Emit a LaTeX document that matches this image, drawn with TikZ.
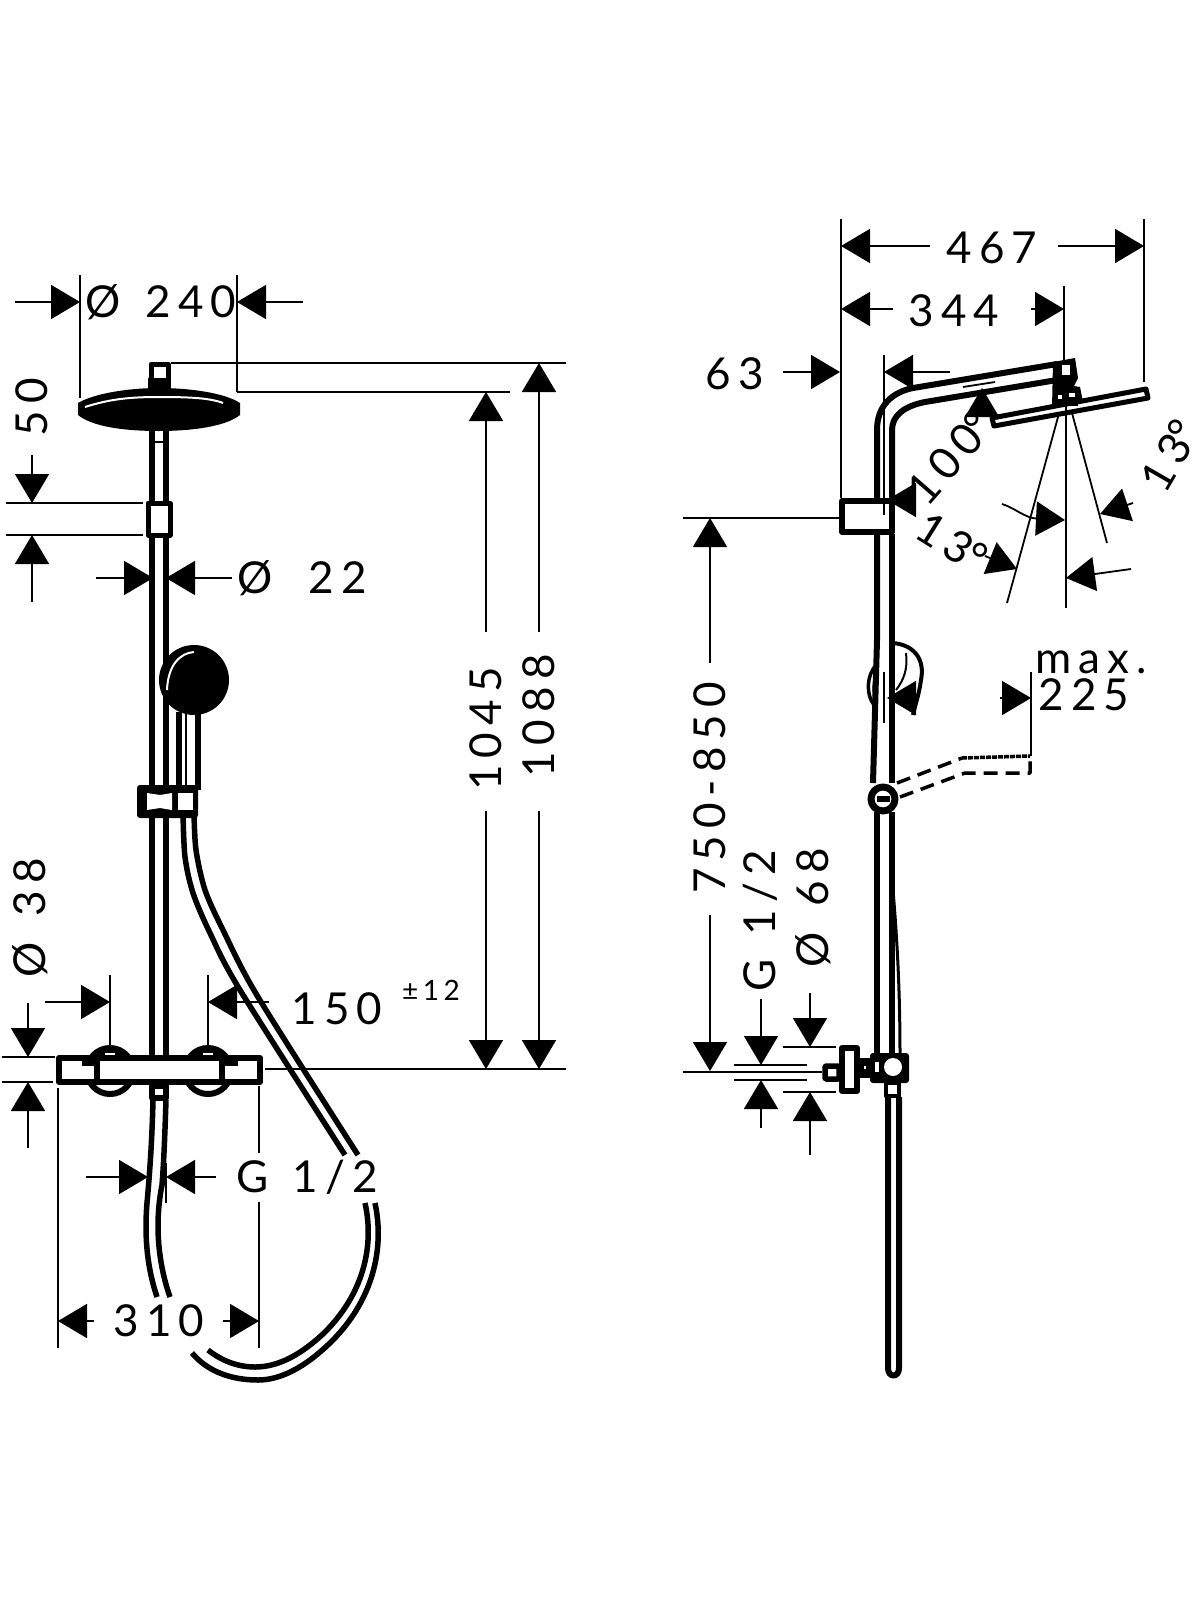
\documentclass[tikz,border=0pt]{standalone}
\usepackage{fontspec}
\setmainfont[LetterSpace=16]{Lato}
\usetikzlibrary{arrows.meta}

\tikzset{
  part/.style={line width=6pt,line join=round},
  hose/.style={line width=5.5pt},
  ext/.style={line width=1.8pt},
  dimline/.style={line width=1.8pt,-{Triangle[length=29pt,width=34pt]}},
  label/.style={inner sep=0pt,font=\fontsize{44}{44}\selectfont},
}

\begin{document}
\begin{tikzpicture}[x=1pt,y=-1pt]

      \useasboundingbox (0,0) rectangle (1200,1600);
      \fill[white] (0,0) rectangle (1200,1600);

      % Left view, rail and shower head
      \begin{scope}[part]
        \draw (152,431) -- (152,1058);
        \draw (166,431) -- (166,1058);
        \draw[ext] (154,442) -- (164,442);
        \draw[line width=5pt,fill=white] (148,503) rectangle (170,535);
        \draw[line width=5pt,fill=white] (151,364) rectangle (168,380);
        \fill (148,378) rectangle (171,392);
        \fill (78,403) .. controls (95,393) and (130,388) .. (159,388)
          .. controls (190,388) and (225,393) .. (240,403) -- (240,415)
          .. controls (225,427) and (190,431) .. (159,431)
          .. controls (125,431) and (93,427) .. (78,415) -- cycle;
        \draw[white,line width=2pt] (85,407) .. controls (110,399) and (130,397) .. (159,397)
          .. controls (190,397) and (210,398) .. (223,403);
      \end{scope}

      % Left view, hand shower
      \begin{scope}[part]
        \draw (179,712) -- (179,790);
        \draw (198,712) -- (198,790);
        \draw[ext] (186,712) -- (186,790);
        \fill (194,680) circle[radius=35pt];
        \draw[white,line width=2pt] (167,690) .. controls (168,665) and (180,653) .. (194,652);
        \fill[rounded corners=3pt] (137,785) rectangle (198,818);
        \fill[white] (147,793) -- (160,795) -- (172,793) -- (172,810) -- (160,808) -- (147,810) -- cycle;
        \fill[white] (178,793) rectangle (193,810);
      \end{scope}

      % Left view, hoses
      \begin{scope}[hose]
        \draw plot[smooth] coordinates {(183,813) (185,857) (193,893) (210,933) (240,990) (345,1155)};
        \draw plot[smooth] coordinates {(194,813) (196,850) (205,890) (223,930) (258,997) (358,1155)};
        \draw (375,1203) .. controls (385,1250) and (372,1300) .. (333,1340)
          .. controls (305,1368) and (280,1380) .. (258,1380)
          .. controls (232,1380) and (208,1372) .. (192,1353);
        \draw (365,1203) .. controls (375,1248) and (362,1295) .. (325,1332)
          .. controls (300,1356) and (277,1367) .. (255,1367)
          .. controls (238,1367) and (222,1361) .. (208,1350);
        \draw (153,1100) .. controls (152,1140) and (150,1170) .. (147,1203)
          .. controls (144,1240) and (148,1270) .. (157,1297);
        \draw (166,1100) .. controls (165,1130) and (164,1160) .. (162,1185)
          .. controls (155,1220) and (157,1260) .. (170,1297);
      \end{scope}

      % Left view, thermostat
      \begin{scope}[part]
        \draw (110,1071) circle[radius=23pt];
        \draw (208,1071) circle[radius=23pt];
        \draw[fill=white] (59,1058) rectangle (260,1082);
        \fill[white] (100,1061) rectangle (219,1079);
        \fill (92,1058) .. controls (95,1042) and (125,1042) .. (128,1058) -- cycle;
        \fill (190,1058) .. controls (193,1042) and (223,1042) .. (226,1058) -- cycle;
        \draw[white,line width=1.5pt] (105,1054) -- (115,1054);
        \draw[white,line width=1.5pt] (203,1054) -- (213,1054);
        \draw (97,1058) -- (97,1082);
        \draw (222,1058) -- (222,1082);
        \draw (82,1063) -- (97,1063);
        \draw (222,1063) -- (238,1063);
        \draw[line width=5.5pt,fill=white] (152,1086) rectangle (166,1098);
      \end{scope}

      % Right view, rail and arm
      \begin{scope}[part]
        \draw (877,500) -- (877,430) .. controls (877,405) and (893,392) .. (913,388) -- (1057,364);
        \draw (892,500) -- (892,430) .. controls (892,415) and (905,406) .. (925,402) -- (1057,380);
        \draw (877,534) -- (877,640) -- (873,783);
        \draw (892,534) -- (892,783);
        \draw[line width=5.5pt,fill=white] (842,501) rectangle (892,532);
        \fill (1053,362) -- (1075,358) -- (1078,378) -- (1074,386) -- (1080,387)
          -- (1083,402) -- (1052,408) -- cycle;
        \fill[white] (1062,365) rectangle (1070,375);
        \draw[line width=5pt,fill=white] (992,418) -- (1146,389) -- (1148,398) -- (994,426) -- cycle;
        \fill (1056,398) rectangle (1078,406);
        \fill[white] (1058,395) rectangle (1062,399);
        \fill[white] (1069,393) rectangle (1075,397);
      \end{scope}

      % Right view, hand shower
      \begin{scope}[part]
        \draw[line width=4pt] (893,643) .. controls (915,645) and (925,660) .. (921,680) .. controls (919,695) and (915,705) .. (913,715);
        \draw[line width=2pt] (906,653) .. controls (908,668) and (904,680) .. (896,690);
        \draw[line width=3.5pt] (877,664) .. controls (866,675) and (866,695) .. (874,705);
        \draw[line width=3pt] (877,672) .. controls (873,680) and (873,695) .. (876,702);
        \draw[ext] (884,672) -- (884,723);
        \draw[line width=3.5pt,dash pattern=on 14pt off 8pt] (897,783) -- (962,758);
        \draw[line width=3.5pt,dash pattern=on 5pt off 1pt] (962,758) -- (1030,756);
        \draw[line width=3.5pt,dash pattern=on 14pt off 8pt] (900,797) -- (965,773) -- (1030,773) -- (1030,756);
        \draw[fill=white,line width=7pt] (883,799) circle[radius=12pt];
        \fill (877,796) rectangle (890,802);
      \end{scope}

      % Right view, outlet
      \begin{scope}[part]
        \draw (877,812) -- (877,1055);
        \draw (892,812) -- (892,1055);
        \draw[line width=3pt] (893,890) .. controls (898,950) and (900,1000) .. (900,1055);
        \draw (888,1097) -- (888,1368) .. controls (888,1378) and (899,1378) .. (899,1368) -- (899,1097);
        \draw[line width=5.5pt,fill=white,rounded corners=1pt] (825,1066) rectangle (839,1079);
        \fill (859,1058) rectangle (873,1078);
        \fill[rounded corners=3pt] (870,1053) rectangle (909,1083);
        \fill[white] (893,1067) circle[radius=9pt];
        \fill[white] (875,1062) rectangle (879,1072);
        \fill[white] (864,1066) rectangle (866,1069);
        \draw[fill=white] (842,1048) rectangle (857,1091);
        \draw[line width=4.5pt,fill=white] (886,1083) rectangle (899,1096);
      \end{scope}

      % Extension lines
      \begin{scope}[ext]
        \draw (80,275) -- (80,398);
        \draw (237,275) -- (237,392);
        \draw (171,363) -- (566,363);
        \draw (237,392) -- (510,392);
        \draw (6,503) -- (143,503);
        \draw (6,535) -- (143,535);
        \draw (2,1057) -- (55,1057);
        \draw (2,1082) -- (53,1082);
        \draw (110,975) -- (110,1047);
        \draw (208,975) -- (208,1047);
        \draw (265,1069) -- (566,1069);
        \draw (58,1088) -- (58,1348);
        \draw (259,1086) -- (259,1153);
        \draw (259,1202) -- (259,1348);
        \draw (166,1163) -- (166,1203);

        \draw (841,219) -- (841,498);
        \draw (1144,219) -- (1144,382);
        \draw (1064,286) -- (1064,360);
        \draw (1066,392) -- (1066,608);
        \draw (884,355) -- (884,515);
        \draw (683,518) -- (840,518);
        \draw (1058,417) -- (1007,603);
        \draw (1072,413) -- (1107,543);
        \draw (963,387) -- (995,382);
        \draw (1031,672) -- (1031,756);
        \draw (683,1072) -- (822,1072);
        \draw (734,1065) -- (807,1065);
        \draw (734,1080) -- (807,1080);
        \draw (783,1047) -- (836,1047);
        \draw (783,1092) -- (836,1092);
      \end{scope}

      % Dimension arrows, left view
      \begin{scope}[dimline]
        \draw[dimline] (15,302) -- (80,302);
        \draw[dimline] (303,302) -- (237,302);
        \draw[dimline] (32,455) -- (32,503);
        \draw[dimline] (32,602) -- (32,535);
        \draw[dimline] (96,578) -- (153,578);
        \draw[dimline] (232,578) -- (166,578);
        \draw[dimline] (486,632) -- (486,392);
        \draw[dimline] (486,811) -- (486,1069);
        \draw[dimline] (539,632) -- (539,363);
        \draw[dimline] (539,811) -- (539,1069);
        \draw[dimline] (28,1003) -- (28,1057);
        \draw[dimline] (28,1148) -- (28,1082);
        \draw[dimline] (45,1002) -- (110,1002);
        \draw[dimline] (269,1002) -- (208,1002);
        \draw[dimline] (86,1177) -- (148,1177);
        \draw[dimline] (216,1177) -- (166,1177);
        \draw[dimline] (94,1321) -- (58,1321);
        \draw[dimline] (223,1321) -- (259,1321);
      \end{scope}

      % Dimension arrows, right view
      \begin{scope}[dimline]
        \draw[dimline] (930,246) -- (841,246);
        \draw[dimline] (1058,246) -- (1144,246);
        \draw[dimline] (893,309) -- (841,309);
        \draw[dimline] (1031,309) -- (1064,309);
        \draw[dimline] (783,372) -- (840,372);
        \draw[dimline] (950,372) -- (884,372);
        \draw[dimline] (982,415) -- (982,388);
        \draw[dimline] (915,500) -- (887,500);
        \draw[dimline] (1002,504) .. controls (1015,508) and (1025,518) .. (1065,520);
        \draw[dimline] (985,556) -- (1017,569);
        \draw[dimline] (1133,503) -- (1100,514);
        \draw[dimline] (1131,569) -- (1066,578);
        \draw[dimline] (1000,698) -- (1031,698);
        \draw[dimline] (915,698) -- (887,698);
        \draw[dimline] (710,663) -- (710,518);
        \draw[dimline] (710,915) -- (710,1071);
        \draw[dimline] (761,999) -- (761,1065);
        \draw[dimline] (761,1128) -- (761,1080);
        \draw[dimline] (810,993) -- (810,1047);
        \draw[dimline] (810,1155) -- (810,1092);
      \end{scope}

      % Labels
      \begin{scope}[every node/.style={label}]
        \node (d240) at (161,302) {Ø\hspace{6pt} 240};
        \node[rotate=90] (h50) at (32,407) {50};
        \node (d22) at (302,578) {Ø\ \ 22};
        \node[rotate=90] (d38) at (30,918) {Ø\hspace{8pt} 38};
        \node (w150) at (337,1009) {150};
        \node[font=\fontsize{28}{28}\selectfont] (tol) at (431,990) {±12};
        \node (g12a) at (307,1177) {G\hspace{6pt} 1/2};
        \node (w310) at (159,1321) {310};
        \node[rotate=90] (h1045) at (486,729) {1045};
        \node[rotate=90] (h1088) at (539,716) {1088};

        \node (w467) at (992,248) {467};
        \node (w344) at (954,311) {344};
        \node (w63) at (735,374) {63};
        \node[rotate=49] (a100) at (950,458) {100\kern-3pt°};
        \node[rotate=-32] (a13a) at (952,543) {13\kern-2pt°};
        \node[rotate=60] (a13b) at (1170,456) {13\kern-3pt°};
        \node (maxa) at (1091,662) {max.};
        \node (w225) at (1084,695) {225};
        \node[rotate=90] (h750) at (710,788) {750-850};
        \node[rotate=90] (g12b) at (760,921) {G\hspace{6pt} 1/2};
        \node[rotate=90] (d68) at (813,908) {Ø\hspace{8pt} 68};
      \end{scope}

    \end{tikzpicture}
\end{document}
